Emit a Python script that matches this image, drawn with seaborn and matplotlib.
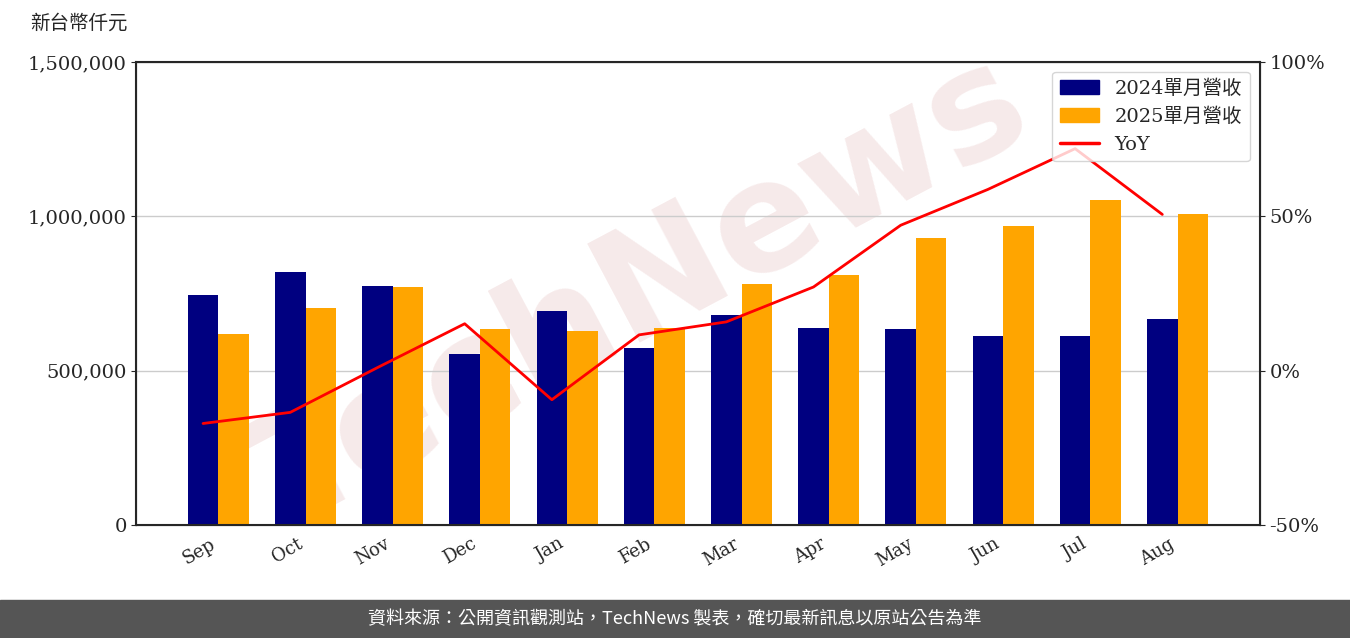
import numpy as np
import pandas as pd
import matplotlib
matplotlib.use("Agg")
import matplotlib.pyplot as plt
import seaborn as sns
from matplotlib.patches import Patch
from matplotlib.lines import Line2D

months = ["Sep", "Oct", "Nov", "Dec", "Jan", "Feb", "Mar", "Apr", "May", "Jun", "Jul", "Aug"]
rev_2024 = [745000, 820000, 774000, 554000, 693000, 573000, 680000, 638000, 635000, 612000, 612000, 667000]
rev_2025 = [619000, 703000, 771000, 635000, 628000, 638000, 781000, 810000, 930000, 969000, 1053000, 1007000]
yoy = [-17.1, -13.5, 1.0, 15.2, -9.4, 11.6, 15.8, 27.1, 47.1, 58.7, 71.9, 50.6]

sns.set_style("white")
plt.rcParams["font.family"] = ["DejaVu Serif", "Noto Sans CJK TC"]

df = pd.DataFrame({
    "Month": months * 2,
    "Revenue": rev_2024 + rev_2025,
    "Series": ["2024單月營收"] * 12 + ["2025單月營收"] * 12,
})

fig = plt.figure(figsize=(13.5, 6.38), dpi=100)
ax = fig.add_axes([0.101, 0.177, 0.832, 0.726])

sns.barplot(data=df, x="Month", y="Revenue", hue="Series",
            palette=["#000080", "#FFA500"], width=0.7, saturation=1,
            linewidth=0, edgecolor="none", ax=ax, legend=False)
ax.set_ylim(0, 1500000)
ax.set_yticks([0, 500000, 1000000, 1500000])
ax.set_yticklabels(["0", "500,000", "1,000,000", "1,500,000"], fontsize=14)
ax.yaxis.grid(True, color="#cccccc", linewidth=1)
ax.set_axisbelow(True)
ax.set_xlabel("")
ax.set_ylabel("")
ax.set_xlim(-0.94, 11.94)
plt.setp(ax.get_xticklabels(), rotation=30, ha="right", fontsize=13)
for s in ax.spines.values():
    s.set_linewidth(1.5)

# watermark, behind the bars
ax.text(0.45, 0.5, "TechNews", transform=ax.transAxes, fontsize=110, rotation=28,
        color="#d9a0a0", alpha=0.22, ha="center", va="center", fontweight="bold",
        family=["DejaVu Sans"], zorder=0.5)

# YoY line sits on the 2024 bar centres
ax2 = ax.twinx()
sns.lineplot(x=np.arange(12) - 0.175, y=yoy, color="red", linewidth=2, ax=ax2)
ax2.set_ylim(-50, 100)
ax2.set_yticks([-50, 0, 50, 100])
ax2.set_yticklabels(["-50%", "0%", "50%", "100%"], fontsize=14)

handles = [Patch(color="#000080", label="2024單月營收"),
           Patch(color="#FFA500", label="2025單月營收"),
           Line2D([0], [0], color="red", linewidth=2.5, label="YoY")]
ax2.legend(handles=handles, loc="upper right", fontsize=14, framealpha=0.8)

fig.text(0.022, 0.955, "新台幣仟元", fontsize=14, family=["Noto Sans CJK TC"])

fig.patches.append(plt.Rectangle((0, 0), 1, 0.06, transform=fig.transFigure,
                                 color="#555555", zorder=0))
fig.text(0.5, 0.03, "資料來源：公開資訊觀測站，TechNews 製表，確切最新訊息以原站公告為準",
         color="white", fontsize=13, ha="center", va="center", family=["Noto Sans CJK TC"])

fig.savefig("out.png", dpi=100)
